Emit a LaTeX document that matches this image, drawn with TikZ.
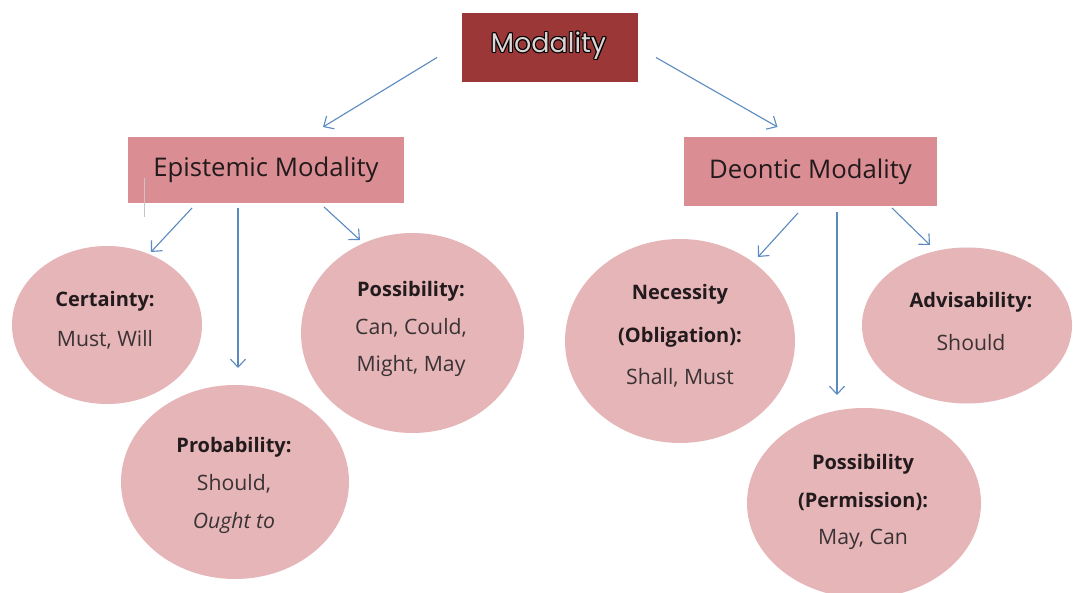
\documentclass[tikz,border=0pt]{standalone}
\usepackage{fontspec}
\setmainfont{Open Sans}
\newfontfamily\modfont{Poppins}
\usetikzlibrary{arrows.meta,shapes.geometric}
\definecolor{modred}{HTML}{9B3737}
\definecolor{modlight}{HTML}{DCD4D4}
\definecolor{boxpink}{HTML}{DA8D92}
\definecolor{ellpink}{HTML}{E5B5B7}
\definecolor{arrblue}{HTML}{5A8AC0}
\definecolor{headtxt}{HTML}{221A1C}
\definecolor{valtxt}{HTML}{3A3234}
\newcommand{\hd}[1]{{\fontsize{20}{20}\selectfont\textbf{\color{headtxt}#1}}}
\newcommand{\olcopy}[3]{\rlap{\hspace*{#1}\raisebox{#2}{\textcolor{black}{#3}}}}
\newcommand{\outl}[1]{\leavevmode
  \olcopy{1.1pt}{0pt}{#1}\olcopy{-1.1pt}{0pt}{#1}%
  \olcopy{0pt}{1.1pt}{#1}\olcopy{0pt}{-1.1pt}{#1}%
  \olcopy{0.8pt}{0.8pt}{#1}\olcopy{-0.8pt}{0.8pt}{#1}%
  \olcopy{0.8pt}{-0.8pt}{#1}\olcopy{-0.8pt}{-0.8pt}{#1}%
  \textcolor{modlight}{#1}}
\begin{document}
\begin{tikzpicture}[x=1pt,y=-1pt,
  ellbox/.style={ellipse,fill=ellpink,draw=none,inner sep=0pt,outer sep=0pt},
  catbox/.style={rectangle,fill=boxpink,draw=none,inner sep=0pt,outer sep=0pt,
    font=\fontsize{25.7}{30}\selectfont,text=headtxt},
  modtxt/.style={inner sep=0pt,font=\modfont\fontsize{27}{32}\selectfont},
  txt/.style={align=center,inner sep=0pt,font=\fontsize{21.2}{39}\selectfont,text=valtxt},
  arr/.style={draw=arrblue,line width=1.1pt,
    -{Straight Barb[length=8pt,width=15pt,line width=1.1pt]}}]
\useasboundingbox (0,0) rectangle (1073,593);
\fill[white] (0,0) rectangle (1073,593);

% top box
\node[rectangle,fill=modred,draw=none,inner sep=0pt,outer sep=0pt,
  minimum width=176pt,minimum height=69pt] (mod) at (550,47.5) {};
\node[modtxt] (modt) at (548.5,46) {\outl{Modality}};

% category boxes
\node[catbox,minimum width=276pt,minimum height=66pt] (epi) at (266,170) {Epistemic Modality};
\node[catbox,minimum width=253pt,minimum height=69pt] (deo) at (810.5,171.5) {Deontic Modality};

% ellipses
\node[ellbox,minimum width=190pt,minimum height=158pt] (cert) at (107,325) {};
\node[ellbox,minimum width=228pt,minimum height=194pt] (prob) at (235,482) {};
\node[ellbox,minimum width=223pt,minimum height=200pt] (poss) at (412.5,333) {};
\node[ellbox,minimum width=230pt,minimum height=204pt] (nec) at (680,341) {};
\node[ellbox,minimum width=210pt,minimum height=156pt] (adv) at (967,325.5) {};
\node[ellbox,minimum width=234pt,minimum height=190pt] (perm) at (864,503) {};

% texts
\node[txt,font=\fontsize{21.2}{40}\selectfont] (certT) at (105,320) {\hd{Certainty:}\\Must, Will};
\node[txt,font=\fontsize{21.2}{38}\selectfont] (probT) at (234,485) {\hd{Probability:}\\Should,\\\textit{Ought to}};
\node[txt,font=\fontsize{21.2}{37.5}\selectfont] (possT) at (411,329) {\hd{Possibility:}\\Can, Could,\\Might, May};
\node[txt,font=\fontsize{21.2}{42.5}\selectfont] (necT) at (680,336) {\hd{Necessity}\\\hd{(Obligation):}\\Shall, Must};
\node[txt,font=\fontsize{21.2}{43}\selectfont] (advT) at (971,321.5) {\hd{Advisability:}\\Should};
\node[txt,font=\fontsize{21.2}{37.5}\selectfont] (permT) at (863,502) {\hd{Possibility}\\\hd{(Permission):}\\May, Can};

% small mark
\draw[gray!45,line width=0.6pt] (144,178) -- (144,217);

% connectors
\draw[arr] ([shift={(-25,10)}]mod.west) -- ([shift={(57,-10)}]epi.north);
\draw[arr] ([shift={(18,10)}]mod.east) -- ([shift={(-33,-10)}]deo.north);

\draw[arr] ([shift={(-74,5)}]epi.south) -- ([shift={(44,6)}]cert.north);
\draw[arr] ([shift={(-28,5)}]epi.south) -- ([shift={(3,-17)}]prob.north);
\draw[arr] ([shift={(58,4)}]epi.south) -- ([shift={(-52.5,7)}]poss.north);

\draw[arr] ([shift={(-12.5,7)}]deo.south) -- ([shift={(78,18)}]nec.north);
\draw[arr] ([shift={(26.5,6)}]deo.south) -- ([shift={(-27,-13)}]perm.north);
\draw[arr] ([shift={(81.5,2)}]deo.south) -- ([shift={(-37,-2.5)}]adv.north);
\end{tikzpicture}
\end{document}
